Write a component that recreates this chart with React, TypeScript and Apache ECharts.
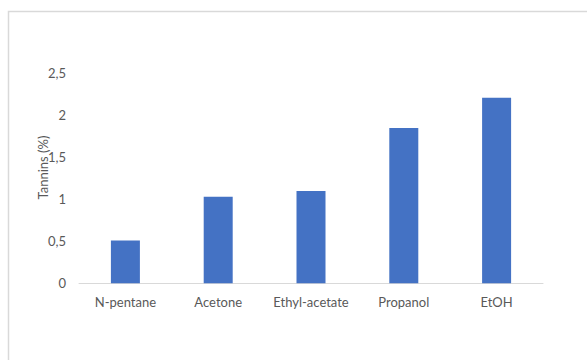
import React, { useEffect, useRef } from "react";
import * as echarts from "echarts";

const categories = ["N-pentane", "Acetone", "Ethyl-acetate", "Propanol", "EtOH"];
const tannins = [0.51, 1.03, 1.1, 1.85, 2.21];
const yTicks = [0, 0.5, 1, 1.5, 2, 2.5];

const FONT = "Lato, 'Open Sans', sans-serif";

export default function App() {
  const ref = useRef<HTMLDivElement>(null);

  useEffect(() => {
    if (!ref.current) return;
    const chart = echarts.init(ref.current, null, { renderer: "svg" });
    chart.setOption({
      animation: false,
      backgroundColor: "#ffffff",
      grid: { left: 79, right: 44, top: 73.3, bottom: 76.7 },
      xAxis: {
        type: "category",
        data: categories,
        axisLine: { lineStyle: { color: "#d9d9d9", width: 1 } },
        axisTick: { show: false },
        axisLabel: {
          interval: 0,
          hideOverlap: false,
          color: "#595959",
          fontFamily: FONT,
          fontSize: 13,
          margin: 12,
        },
      },
      yAxis: {
        type: "value",
        min: yTicks[0],
        max: yTicks[yTicks.length - 1],
        interval: 0.5,
        axisLine: { show: false },
        axisTick: { show: false },
        splitLine: { show: false },
        axisLabel: {
          color: "#595959",
          fontFamily: FONT,
          fontSize: 13,
          margin: 13,
          formatter: (v: number) => String(v).replace(".", ","),
        },
      },
      series: [
        {
          type: "bar",
          data: tannins,
          barWidth: 29,
          itemStyle: { color: "#4472c4" },
        },
      ],
      graphic: [
        {
          type: "rect",
          shape: { x: 8.5, y: 11.5, width: 700, height: 500 },
          style: { fill: "none", stroke: "#d9d9d9", lineWidth: 1.5 },
          silent: true,
        },
        {
          type: "text",
          x: 43,
          y: 167.5,
          rotation: Math.PI / 2,
          style: {
            text: "Tannins (%)",
            fill: "#595959",
            font: `13px ${FONT}`,
            align: "center",
            verticalAlign: "middle",
          },
        },
      ],
    });
    return () => chart.dispose();
  }, []);

  return (
    <div
      ref={ref}
      style={{ position: "fixed", left: 0, top: 0, width: 587, height: 360 }}
    />
  );
}
